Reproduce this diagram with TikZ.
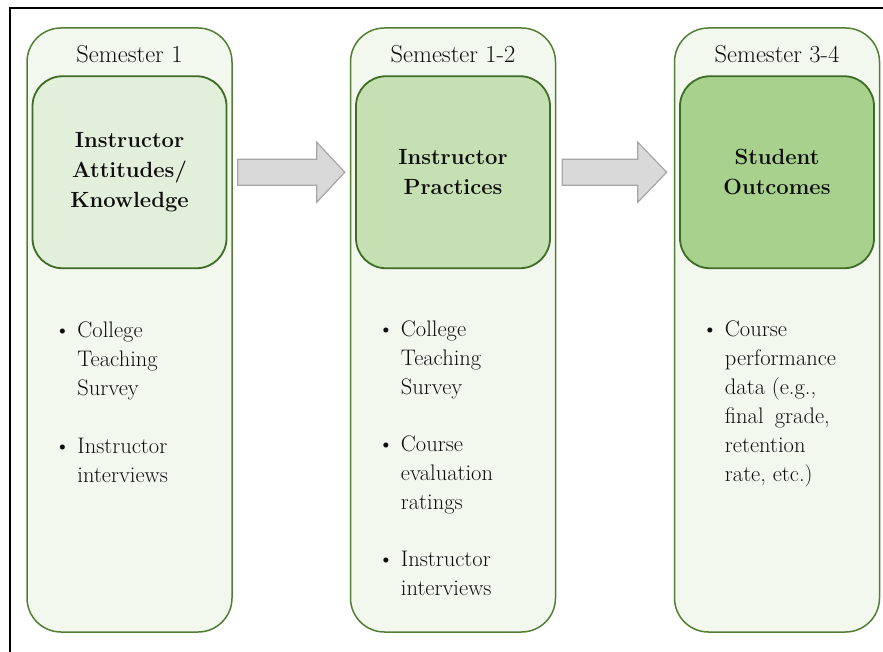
\documentclass[tikz,border=0pt]{standalone}
\usepackage{fontspec}
\usetikzlibrary{calc}

\definecolor{outerfill}{HTML}{F3F8EF}
\definecolor{outerline}{HTML}{517E34}
\definecolor{innerline}{HTML}{3E6B26}
\definecolor{fillA}{HTML}{E2EFDA}
\definecolor{fillB}{HTML}{C6E0B4}
\definecolor{fillC}{HTML}{A9D18E}
\definecolor{arrowfill}{HTML}{D9D9D9}
\definecolor{arrowline}{HTML}{A6A6A6}
\definecolor{inktext}{HTML}{0E0E0E}

\newcommand{\listbullet}{\makebox[23pt][l]{\textbullet}}

\begin{document}
\begin{tikzpicture}[x=1pt, y=-1pt, text=inktext,
  semester/.style={draw=outerline, line width=1.5pt, fill=outerfill, rounded corners=34pt, minimum width=205pt, minimum height=604pt},
  phase/.style={draw=innerline, line width=1.8pt, rounded corners=30pt, minimum width=194pt, minimum height=192pt, align=center, font=\fontsize{22}{30}\selectfont\bfseries},
  semlabel/.style={anchor=base, inner sep=0pt, font=\fontsize{24.5}{30}\selectfont},
  measures/.style={anchor=base west, inner sep=0pt, font=\fontsize{22.5}{29}\selectfont},
  blockarrow/.style={draw=arrowline, fill=arrowfill, line width=1.2pt, line join=miter}]
  \useasboundingbox (0,0) rectangle (883,652);
  % frame
  \draw[line width=2pt] (10,652) -- (10,8) -- (883,8);

  % semester columns
  \node[semester] (sem1) at (129.5,330) {};
  \node[semester] (sem2) at (453,330) {};
  \node[semester] (sem3) at (777,330) {};

  \node[semlabel] (lab1) at ($(sem1.north)+(0,35)$) {Semester 1};
  \node[semlabel] (lab2) at ($(sem2.north)+(0,35)$) {Semester 1-2};
  \node[semlabel] (lab3) at ($(sem3.north)+(0,35)$) {Semester 3-4};

  % phases
  \node[phase, fill=fillA] (attitudes) at ($(sem1.north)+(0,145)$) {Instructor\\Attitudes/\\Knowledge};
  \node[phase, fill=fillB] (practices) at ($(sem2.north)+(0,145)$) {Instructor\\Practices};
  \node[phase, fill=fillC] (outcomes) at ($(sem3.north)+(0,145)$) {Student\\Outcomes};

  % block arrows
  \draw[blockarrow] let \p1=($(sem1.east |- attitudes.center)+(5pt,0)$), \p2=($(sem2.west |- practices.center)+(-5pt,0)$) in
    (\x1,\y1+13pt) -- (\x2-28pt,\y1+13pt) -- (\x2-28pt,\y1+30pt) -- (\x2,\y1) -- (\x2-28pt,\y1-30pt) -- (\x2-28pt,\y1-13pt) -- (\x1,\y1-13pt) -- cycle;
  \draw[blockarrow] let \p1=($(sem2.east |- practices.center)+(6pt,0)$), \p2=($(sem3.west |- outcomes.center)+(-7pt,0)$) in
    (\x1,\y1+13pt) -- (\x2-29pt,\y1+13pt) -- (\x2-29pt,\y1+30pt) -- (\x2,\y1) -- (\x2-29pt,\y1-30pt) -- (\x2-29pt,\y1-13pt) -- (\x1,\y1-13pt) -- cycle;

  % measures
  \node[measures] (list1) at ($(sem1.north west)+(28,310)$) {\begin{tabular}[t]{@{}l@{}l@{}}
    \listbullet & College\\ & Teaching\\ & Survey\\[29pt]
    \listbullet & Instructor\\ & interviews
  \end{tabular}};
  \node[measures] (list2) at ($(sem2.north west)+(28,309)$) {\begin{tabular}[t]{@{}l@{}l@{}}
    \listbullet & College\\ & Teaching\\ & Survey\\[28pt]
    \listbullet & Course\\ & evaluation\\ & ratings\\[28pt]
    \listbullet & Instructor\\ & interviews
  \end{tabular}};
  \node[measures] (list3) at ($(sem3.north west)+(28,309)$) {\begin{tabular}[t]{@{}l@{}l@{}}
    \listbullet & Course\\ & performance\\ & data (e.g.,\\ & final\enspace grade,\\ & retention\\ & rate, etc.)
  \end{tabular}};
\end{tikzpicture}
\end{document}
